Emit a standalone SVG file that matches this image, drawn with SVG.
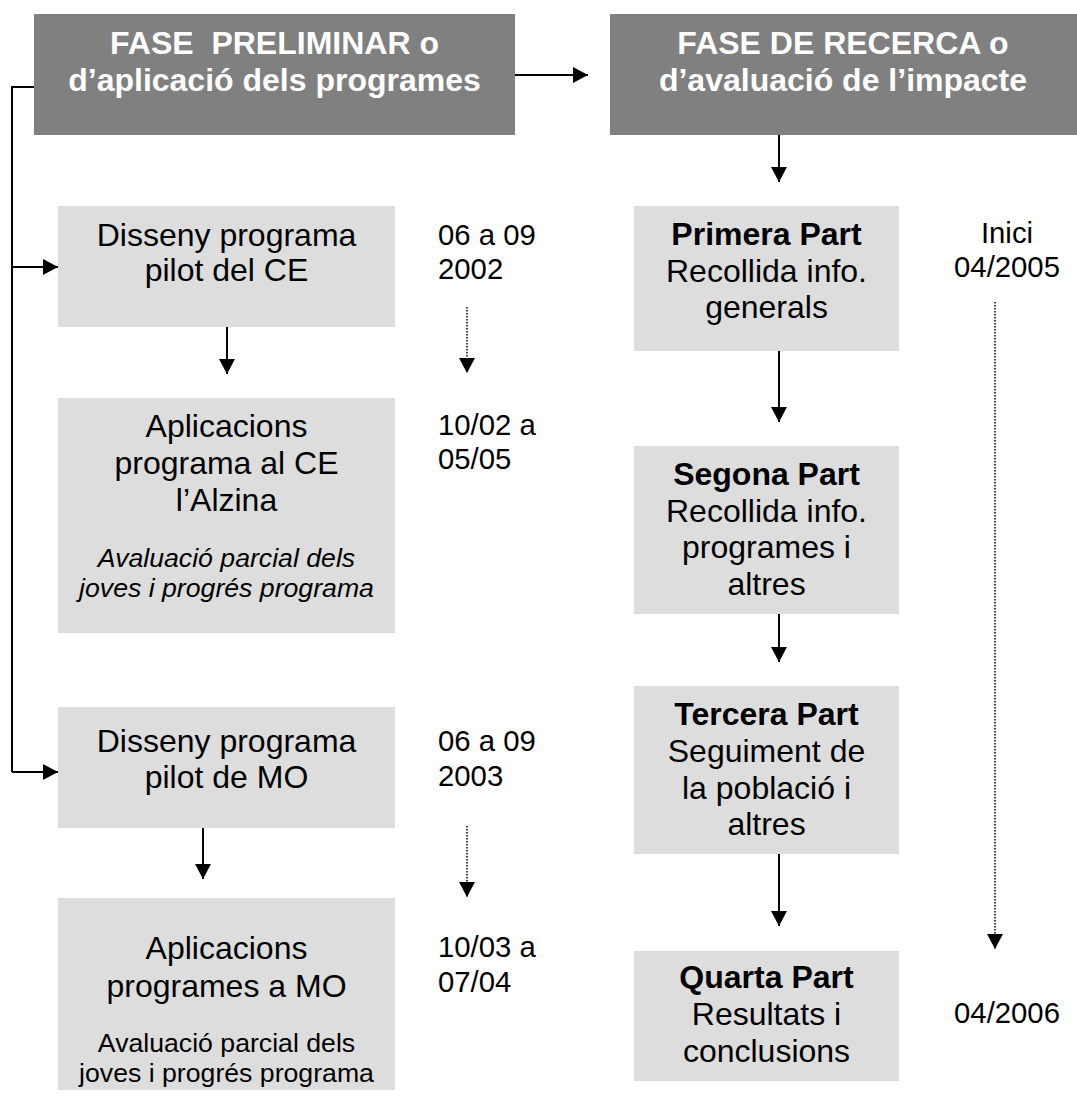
<svg xmlns="http://www.w3.org/2000/svg" width="1077" height="1108" viewBox="0 0 1077 1108">
<style>
  .hdr { fill: #808080; }
  .box { fill: #dddddd; }
  .ht { font-family: "Liberation Sans", Arial, sans-serif; font-size: 32px; font-weight: bold; fill: #ffffff; text-anchor: middle; }
  .t { font-family: "Liberation Sans", Arial, sans-serif; font-size: 32px; fill: #000000; text-anchor: middle; }
  .tb { font-weight: bold; }
  .sm { font-family: "Liberation Sans", Arial, sans-serif; font-size: 26.67px; fill: #000000; text-anchor: middle; }
  .it { font-style: italic; }
  .dt { font-family: "Liberation Sans", Arial, sans-serif; font-size: 29.3px; fill: #000000; }
  .dtc { text-anchor: middle; }
  .ln { stroke: #000000; stroke-width: 2; fill: none; }
  .dot { stroke: #000000; stroke-width: 1.5; stroke-dasharray: 1.5 1.5; fill: none; }
</style>
<defs>
  <marker id="ah" viewBox="0 0 15 16" markerWidth="15" markerHeight="16" refX="15" refY="8" orient="auto" markerUnits="userSpaceOnUse">
    <path d="M0,0 L15,8 L0,16 Z" fill="#000000"/>
  </marker>
</defs>

<g id="connectors">
  <polyline class="ln" points="34,87 12,87 12,772"/>
  <line class="ln" x1="12" y1="267" x2="58" y2="267" marker-end="url(#ah)"/>
  <line class="ln" x1="12" y1="772" x2="58" y2="772" marker-end="url(#ah)"/>
  <line class="ln" x1="515" y1="75" x2="588" y2="75" marker-end="url(#ah)"/>
  <line class="ln" x1="779" y1="135" x2="779" y2="182" marker-end="url(#ah)"/>
  <line class="ln" x1="227" y1="327" x2="227" y2="374" marker-end="url(#ah)"/>
  <line class="ln" x1="203" y1="828" x2="203" y2="879" marker-end="url(#ah)"/>
  <line class="ln" x1="779" y1="351" x2="779" y2="422" marker-end="url(#ah)"/>
  <line class="ln" x1="779" y1="614" x2="779" y2="662" marker-end="url(#ah)"/>
  <line class="ln" x1="779" y1="854" x2="779" y2="926" marker-end="url(#ah)"/>
  <line class="dot" x1="467" y1="307" x2="467" y2="373" marker-end="url(#ah)"/>
  <line class="dot" x1="467" y1="826" x2="467" y2="897" marker-end="url(#ah)"/>
  <line class="dot" x1="995" y1="302" x2="995" y2="949" marker-end="url(#ah)"/>
</g>

<g id="fase-preliminar">
  <rect class="hdr" x="34" y="14" width="481" height="121"/>
  <text class="ht" x="274.5" y="54" xml:space="preserve">FASE  PRELIMINAR o</text>
  <text class="ht" x="274.5" y="91">d’aplicació dels programes</text>
</g>

<g id="fase-recerca">
  <rect class="hdr" x="610" y="14" width="467" height="121"/>
  <text class="ht" x="843" y="54">FASE DE RECERCA o</text>
  <text class="ht" x="843" y="91">d’avaluació de l’impacte</text>
</g>

<g id="disseny-ce">
  <rect class="box" x="58" y="206" width="337" height="121"/>
  <text class="t" x="226.5" y="246">Disseny programa</text>
  <text class="t" x="226.5" y="281">pilot del CE</text>
</g>

<g id="dates-ce-1">
  <text class="dt" x="438" y="245">06 a 09</text>
  <text class="dt" x="438" y="279">2002</text>
</g>

<g id="aplicacions-ce">
  <rect class="box" x="58" y="398" width="337" height="235"/>
  <text class="t" x="226.5" y="437">Aplicacions</text>
  <text class="t" x="226.5" y="474">programa al CE</text>
  <text class="t" x="226.5" y="511">l’Alzina</text>
  <text class="sm it" x="226.5" y="567">Avaluació parcial dels</text>
  <text class="sm it" x="226.5" y="597">joves i progrés programa</text>
</g>

<g id="dates-ce-2">
  <text class="dt" x="438" y="435">10/02 a</text>
  <text class="dt" x="438" y="469">05/05</text>
</g>

<g id="disseny-mo">
  <rect class="box" x="58" y="707" width="337" height="121"/>
  <text class="t" x="226.5" y="752">Disseny programa</text>
  <text class="t" x="226.5" y="788">pilot de MO</text>
</g>

<g id="dates-mo-1">
  <text class="dt" x="438" y="751">06 a 09</text>
  <text class="dt" x="438" y="786">2003</text>
</g>

<g id="aplicacions-mo">
  <rect class="box" x="58" y="898" width="337" height="192"/>
  <text class="t" x="226.5" y="959">Aplicacions</text>
  <text class="t" x="226.5" y="997">programes a MO</text>
  <text class="sm" x="226.5" y="1052">Avaluació parcial dels</text>
  <text class="sm" x="226.5" y="1082">joves i progrés programa</text>
</g>

<g id="dates-mo-2">
  <text class="dt" x="438" y="957">10/03 a</text>
  <text class="dt" x="438" y="992">07/04</text>
</g>

<g id="primera-part">
  <rect class="box" x="634" y="206" width="265" height="145"/>
  <text class="t tb" x="766.5" y="245">Primera Part</text>
  <text class="t" x="766.5" y="282">Recollida info.</text>
  <text class="t" x="766.5" y="318">generals</text>
</g>

<g id="inici">
  <text class="dt dtc" x="1007" y="243">Inici</text>
  <text class="dt dtc" x="1007" y="277">04/2005</text>
</g>

<g id="segona-part">
  <rect class="box" x="634" y="446" width="265" height="168"/>
  <text class="t tb" x="766.5" y="485">Segona Part</text>
  <text class="t" x="766.5" y="522">Recollida info.</text>
  <text class="t" x="766.5" y="558">programes i</text>
  <text class="t" x="766.5" y="595">altres</text>
</g>

<g id="tercera-part">
  <rect class="box" x="634" y="686" width="265" height="168"/>
  <text class="t tb" x="766.5" y="725">Tercera Part</text>
  <text class="t" x="766.5" y="762">Seguiment de</text>
  <text class="t" x="766.5" y="799">la població i</text>
  <text class="t" x="766.5" y="835">altres</text>
</g>

<g id="quarta-part">
  <rect class="box" x="634" y="951" width="265" height="130"/>
  <text class="t tb" x="766.5" y="988">Quarta Part</text>
  <text class="t" x="766.5" y="1025">Resultats i</text>
  <text class="t" x="766.5" y="1062">conclusions</text>
</g>

<g id="final">
  <text class="dt dtc" x="1007" y="1023">04/2006</text>
</g>
</svg>
